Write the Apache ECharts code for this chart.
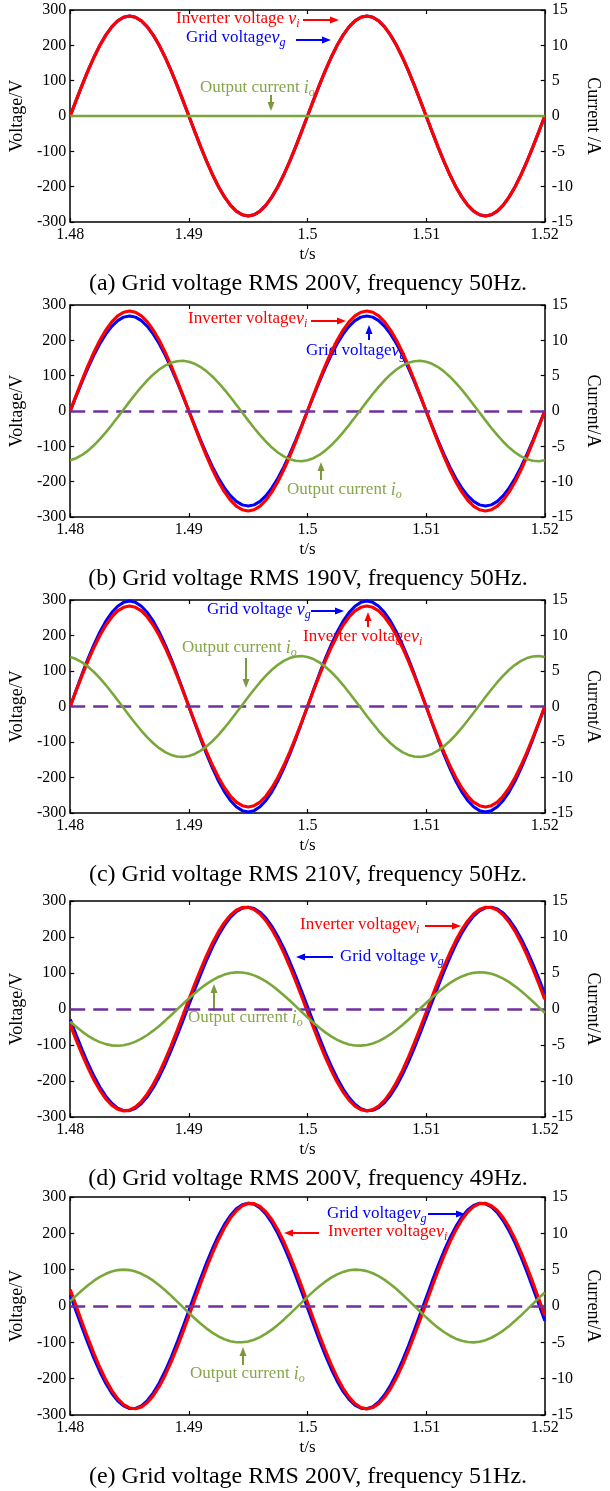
<!DOCTYPE html>
<html>
<head>
<meta charset="utf-8">
<script src="https://cdn.jsdelivr.net/npm/echarts@6/dist/echarts.min.js"></script>
<style>
html,body{margin:0;padding:0;background:#fff;}
#chart{width:610px;height:1491px;}
</style>
</head>
<body>
<div id="chart"></div>
<script>
// time samples (s), every 0.5 ms
const T = [1.48,1.4805,1.481,1.4815,1.482,1.4825,1.483,1.4835,1.484,1.4845,1.485,1.4855,1.486,1.4865,1.487,1.4875,1.488,1.4885,1.489,1.4895,
  1.49,1.4905,1.491,1.4915,1.492,1.4925,1.493,1.4935,1.494,1.4945,1.495,1.4955,1.496,1.4965,1.497,1.4975,1.498,1.4985,1.499,1.4995,
  1.5,1.5005,1.501,1.5015,1.502,1.5025,1.503,1.5035,1.504,1.5045,1.505,1.5055,1.506,1.5065,1.507,1.5075,1.508,1.5085,1.509,1.5095,
  1.51,1.5105,1.511,1.5115,1.512,1.5125,1.513,1.5135,1.514,1.5145,1.515,1.5155,1.516,1.5165,1.517,1.5175,1.518,1.5185,1.519,1.5195,1.52];

// inverter voltage at 50 Hz (panels a, b, c), V
const VI_50 = [0,44.3,87.4,128.5,166.3,200.1,228.9,252.2,269.2,279.5,283,279.5,269.2,252.2,228.9,200.1,166.3,128.5,87.4,44.3,
  0,-44.3,-87.4,-128.5,-166.3,-200.1,-228.9,-252.2,-269.2,-279.5,-283,-279.5,-269.2,-252.2,-228.9,-200.1,-166.3,-128.5,-87.4,-44.3,
  0,44.3,87.4,128.5,166.3,200.1,228.9,252.2,269.2,279.5,283,279.5,269.2,252.2,228.9,200.1,166.3,128.5,87.4,44.3,
  0,-44.3,-87.4,-128.5,-166.3,-200.1,-228.9,-252.2,-269.2,-279.5,-283,-279.5,-269.2,-252.2,-228.9,-200.1,-166.3,-128.5,-87.4,-44.3,0];

// (a) 200V 50Hz
const VG_A = [0,44.3,87.4,128.5,166.3,200.1,228.9,252.2,269.2,279.5,283,279.5,269.2,252.2,228.9,200.1,166.3,128.5,87.4,44.3,
  0,-44.3,-87.4,-128.5,-166.3,-200.1,-228.9,-252.2,-269.2,-279.5,-283,-279.5,-269.2,-252.2,-228.9,-200.1,-166.3,-128.5,-87.4,-44.3,
  0,44.3,87.4,128.5,166.3,200.1,228.9,252.2,269.2,279.5,283,279.5,269.2,252.2,228.9,200.1,166.3,128.5,87.4,44.3,
  0,-44.3,-87.4,-128.5,-166.3,-200.1,-228.9,-252.2,-269.2,-279.5,-283,-279.5,-269.2,-252.2,-228.9,-200.1,-166.3,-128.5,-87.4,-44.3,0];
const IO_A = [0,0,0,0,0,0,0,0,0,0,0,0,0,0,0,0,0,0,0,0,0,0,0,0,0,0,0,0,0,0,0,0,0,0,0,0,0,0,0,0,
  0,0,0,0,0,0,0,0,0,0,0,0,0,0,0,0,0,0,0,0,0,0,0,0,0,0,0,0,0,0,0,0,0,0,0,0,0,0,0,0,0];

// (b) 190V 50Hz
const VG_B = [0,42.1,83.1,122.1,158.1,190.2,217.6,239.7,255.8,265.7,269,265.7,255.8,239.7,217.6,190.2,158.1,122.1,83.1,42.1,
  0,-42.1,-83.1,-122.1,-158.1,-190.2,-217.6,-239.7,-255.8,-265.7,-269,-265.7,-255.8,-239.7,-217.6,-190.2,-158.1,-122.1,-83.1,-42.1,
  0,42.1,83.1,122.1,158.1,190.2,217.6,239.7,255.8,265.7,269,265.7,255.8,239.7,217.6,190.2,158.1,122.1,83.1,42.1,
  0,-42.1,-83.1,-122.1,-158.1,-190.2,-217.6,-239.7,-255.8,-265.7,-269,-265.7,-255.8,-239.7,-217.6,-190.2,-158.1,-122.1,-83.1,-42.1,0];
const IO_B = [-6.97,-6.68,-6.22,-5.61,-4.86,-3.99,-3.02,-1.98,-0.89,0.22,1.33,2.40,3.42,4.35,5.18,5.87,6.42,6.82,7.04,7.10,
  6.97,6.68,6.22,5.61,4.86,3.99,3.02,1.98,0.89,-0.22,-1.33,-2.40,-3.42,-4.35,-5.18,-5.87,-6.42,-6.82,-7.04,-7.10,
  -6.97,-6.68,-6.22,-5.61,-4.86,-3.99,-3.02,-1.98,-0.89,0.22,1.33,2.40,3.42,4.35,5.18,5.87,6.42,6.82,7.04,7.10,
  6.97,6.68,6.22,5.61,4.86,3.99,3.02,1.98,0.89,-0.22,-1.33,-2.40,-3.42,-4.35,-5.18,-5.87,-6.42,-6.82,-7.04,-7.10,-6.97];

// (c) 210V 50Hz
const VG_C = [0,46.5,91.8,134.8,174.6,210.0,240.3,264.6,282.5,293.3,297,293.3,282.5,264.6,240.3,210.0,174.6,134.8,91.8,46.5,
  0,-46.5,-91.8,-134.8,-174.6,-210.0,-240.3,-264.6,-282.5,-293.3,-297,-293.3,-282.5,-264.6,-240.3,-210.0,-174.6,-134.8,-91.8,-46.5,
  0,46.5,91.8,134.8,174.6,210.0,240.3,264.6,282.5,293.3,297,293.3,282.5,264.6,240.3,210.0,174.6,134.8,91.8,46.5,
  0,-46.5,-91.8,-134.8,-174.6,-210.0,-240.3,-264.6,-282.5,-293.3,-297,-293.3,-282.5,-264.6,-240.3,-210.0,-174.6,-134.8,-91.8,-46.5,0];
const IO_C = [6.97,6.68,6.22,5.61,4.86,3.99,3.02,1.98,0.89,-0.22,-1.33,-2.40,-3.42,-4.35,-5.18,-5.87,-6.42,-6.82,-7.04,-7.10,
  -6.97,-6.68,-6.22,-5.61,-4.86,-3.99,-3.02,-1.98,-0.89,0.22,1.33,2.40,3.42,4.35,5.18,5.87,6.42,6.82,7.04,7.10,
  6.97,6.68,6.22,5.61,4.86,3.99,3.02,1.98,0.89,-0.22,-1.33,-2.40,-3.42,-4.35,-5.18,-5.87,-6.42,-6.82,-7.04,-7.10,
  -6.97,-6.68,-6.22,-5.61,-4.86,-3.99,-3.02,-1.98,-0.89,0.22,1.33,2.40,3.42,4.35,5.18,5.87,6.42,6.82,7.04,7.10,6.97];

// (d) 200V 49Hz
const VI_D = [-43.6,-85.9,-126.3,-163.6,-197.1,-225.9,-249.4,-266.9,-278.2,-282.9,-280.9,-272.2,-257.1,-236.0,-209.2,-177.4,-141.6,-102.3,-60.7,-17.6,
  25.9,68.9,110.1,148.8,184.0,214.7,240.5,260.5,274.4,281.8,282.5,276.5,264.0,245.3,220.7,191.0,156.7,118.7,77.9,35.3,
  -8.2,-51.5,-93.5,-133.4,-170.0,-202.7,-230.7,-253.1,-269.5,-279.5,-283.0,-279.7,-269.9,-253.7,-231.4,-203.7,-171.2,-134.6,-94.8,-52.8,
  -9.6,33.9,76.6,117.4,155.5,189.9,219.9,244.6,263.5,276.2,282.4,281.9,274.7,261.0,241.2,215.7,185.0,150.0,111.4,70.2,27.3];
const VG_D = [-28.9,-71.7,-112.8,-151.3,-186.2,-216.6,-242.0,-261.6,-275.1,-282.0,-282.3,-275.9,-262.9,-243.8,-218.8,-188.8,-154.2,-116.0,-75.1,-32.3,
  11.2,54.4,96.3,136.0,172.4,204.8,232.3,254.4,270.4,280.0,283.0,279.3,269.0,252.3,229.7,201.5,168.8,132.0,92.0,49.9,
  6.6,-36.8,-79.4,-120.1,-158.0,-192.1,-221.7,-246.1,-264.6,-276.9,-282.6,-281.6,-274.0,-259.9,-239.6,-213.7,-182.8,-147.4,-108.7,-67.3,
  -24.4,19.2,62.2,103.8,142.9,178.7,210.2,236.8,257.8,272.6,281.0,282.8,277.9,266.4,248.6,224.9,195.9,162.3,124.9,84.4,42.0];
const IO_D = [-1.77,-2.48,-3.14,-3.72,-4.21,-4.60,-4.88,-5.05,-5.10,-5.03,-4.84,-4.53,-4.12,-3.61,-3.01,-2.35,-1.62,-0.86,-0.08,0.70,
  1.47,2.20,2.88,3.49,4.02,4.45,4.78,5.00,5.09,5.07,4.93,4.67,4.30,3.83,3.26,2.62,1.92,1.18,0.40,-0.38,
  -1.16,-1.91,-2.61,-3.25,-3.81,-4.29,-4.66,-4.92,-5.07,-5.09,-5.00,-4.79,-4.46,-4.03,-3.50,-2.89,-2.22,-1.49,-0.72,0.06,
  0.84,1.60,2.33,3.00,3.59,4.11,4.52,4.83,5.02,5.10,5.05,4.89,4.61,4.22,3.73,3.15,2.50,1.79,1.04,0.26,-0.53];

// (e) 200V 51Hz
const VI_E = [45.0,-0.2,-45.3,-89.3,-131.0,-169.3,-203.4,-232.2,-255.0,-271.3,-280.7,-282.9,-277.8,-265.6,-246.6,-221.3,-190.3,-154.5,-114.6,-71.9,
  -27.3,18.0,62.8,106.0,146.5,183.3,215.3,241.9,262.2,275.8,282.4,281.7,273.8,258.9,237.4,209.8,176.8,139.3,98.2,54.6,
  9.6,-35.7,-80.0,-122.3,-161.4,-196.5,-226.5,-250.6,-268.4,-279.3,-283.0,-279.5,-268.8,-251.2,-227.2,-197.5,-162.6,-123.5,-81.3,-37.0,
  8.2,53.2,96.9,138.1,175.7,208.9,236.6,258.4,273.5,281.6,282.5,276.1,262.7,242.6,216.2,184.3,147.7,107.3,64.2,19.4,-25.9];
const VG_E = [30.3,-15.0,-59.9,-103.3,-144.0,-181.0,-213.4,-240.3,-261.1,-275.2,-282.2,-282.0,-274.6,-260.1,-239.0,-211.8,-179.0,-141.8,-100.9,-57.5,
  -12.5,32.7,77.1,119.6,159.0,194.3,224.6,249.2,267.4,278.8,283.0,279.9,269.7,252.6,229.0,199.5,165.0,126.2,84.2,40.0,
  -5.2,-50.3,-94.1,-135.5,-173.4,-206.9,-235.0,-257.1,-272.7,-281.3,-282.6,-276.8,-263.8,-244.1,-218.0,-186.6,-150.2,-110.0,-67.0,-22.3,
  23.0,67.7,110.7,150.8,187.1,218.5,244.5,264.1,276.9,282.7,281.2,272.5,256.9,234.6,206.4,172.9,134.9,93.4,49.6,4.6,-40.7];
const IO_E = [0.64,1.43,2.17,2.86,3.48,4.01,4.43,4.75,4.94,5.00,4.94,4.75,4.43,4.01,3.48,2.86,2.17,1.43,0.64,-0.16,
  -0.95,-1.72,-2.45,-3.11,-3.70,-4.19,-4.57,-4.84,-4.98,-4.99,-4.88,-4.64,-4.28,-3.81,-3.25,-2.60,-1.88,-1.12,-0.33,0.47,
  1.26,2.01,2.72,3.35,3.90,4.35,4.69,4.91,5.00,4.96,4.80,4.51,4.11,3.60,3.00,2.33,1.59,0.81,0.02,-0.78,
  -1.56,-2.30,-2.98,-3.58,-4.09,-4.50,-4.79,-4.96,-5.00,-4.91,-4.70,-4.37,-3.92,-3.38,-2.75,-2.04,-1.29,-0.50,0.30,1.09,1.86];

const CAPTIONS = [
  '(a) Grid voltage RMS 200V, frequency 50Hz.',
  '(b) Grid voltage RMS 190V, frequency 50Hz.',
  '(c) Grid voltage RMS 210V, frequency 50Hz.',
  '(d) Grid voltage RMS 200V, frequency 49Hz.',
  '(e) Grid voltage RMS 200V, frequency 51Hz.'
];
const RIGHT_NAMES = ['Current /A', 'Current/A', 'Current/A', 'Current/A', 'Current/A'];

const FONT = 'Liberation Serif';
const RED = '#ff0000', BLUE = '#0000ff', GREEN = '#78a83a', GREEN_T = '#86a64a', GREEN_A = '#7c9a3c', PURPLE = '#7030a0';

const panels = [
  { top: 10, h: 212, vi: VI_50, vg: VG_A, io: IO_A, zero: false, cap: 284,
    notes: [
      { t: 'Inverter voltage ', v: 'v', s: 'i', c: RED, ac: RED, x: 176, y: 19, a: [303, 20, 339, 20] },
      { t: 'Grid voltage', v: 'v', s: 'g', c: BLUE, ac: BLUE, x: 186, y: 38, a: [296, 40, 331, 40] },
      { t: 'Output current ', v: 'i', s: 'o', c: GREEN_T, ac: GREEN_A, x: 200, y: 88, a: [271, 95, 271, 111] }
    ] },
  { top: 305, h: 212, vi: VI_50, vg: VG_B, io: IO_B, zero: true, cap: 579,
    notes: [
      { t: 'Inverter voltage', v: 'v', s: 'i', c: RED, ac: RED, x: 188, y: 319, a: [311, 321, 346, 321] },
      { t: 'Grid voltage', v: 'v', s: 'g', c: BLUE, ac: BLUE, x: 306, y: 351, a: [369, 340, 369, 325] },
      { t: 'Output current ', v: 'i', s: 'o', c: GREEN_T, ac: GREEN_A, x: 287, y: 490, a: [321, 480, 321, 462] }
    ] },
  { top: 600, h: 213, vi: VI_50, vg: VG_C, io: IO_C, zero: true, cap: 875,
    notes: [
      { t: 'Grid voltage ', v: 'v', s: 'g', c: BLUE, ac: BLUE, x: 207, y: 610, a: [311, 611, 344, 611] },
      { t: 'Inverter voltage', v: 'v', s: 'i', c: RED, ac: RED, x: 303, y: 637, a: [368, 627, 368, 612] },
      { t: 'Output current ', v: 'i', s: 'o', c: GREEN_T, ac: GREEN_A, x: 182, y: 648, a: [246, 658, 246, 688] }
    ] },
  { top: 901, h: 216, vi: VI_D, vg: VG_D, io: IO_D, zero: true, cap: 1179,
    notes: [
      { t: 'Inverter voltage', v: 'v', s: 'i', c: RED, ac: RED, x: 300, y: 925, a: [425, 926, 461, 926] },
      { t: 'Grid voltage ', v: 'v', s: 'g', c: BLUE, ac: BLUE, x: 340, y: 957, a: [333, 957, 296, 957] },
      { t: 'Output current ', v: 'i', s: 'o', c: GREEN_T, ac: GREEN_A, x: 188, y: 1018, a: [214, 1011, 214, 984] }
    ] },
  { top: 1197, h: 218, vi: VI_E, vg: VG_E, io: IO_E, zero: true, cap: 1477,
    notes: [
      { t: 'Grid voltage', v: 'v', s: 'g', c: BLUE, ac: BLUE, x: 327, y: 1214, a: [428, 1214, 465, 1214] },
      { t: 'Inverter voltage', v: 'v', s: 'i', c: RED, ac: RED, x: 328, y: 1232, a: [319, 1233, 284, 1233] },
      { t: 'Output current ', v: 'i', s: 'o', c: GREEN_T, ac: GREEN_A, x: 190, y: 1374, a: [243, 1365, 243, 1347] }
    ] }
];

function pairs(ys) { return T.map((t, i) => [t, ys[i]]); }

function arrow(x1, y1, x2, y2, color) {
  const ang = Math.atan2(y2 - y1, x2 - x1), L = 9, W = 3.5;
  const bx = x2 - L * Math.cos(ang), by = y2 - L * Math.sin(ang);
  return [
    { type: 'line', shape: { x1: x1, y1: y1, x2: bx, y2: by }, style: { stroke: color, lineWidth: 2 } },
    { type: 'polygon', shape: { points: [[x2, y2], [bx + W * Math.sin(ang), by - W * Math.cos(ang)], [bx - W * Math.sin(ang), by + W * Math.cos(ang)]] },
      style: { fill: color } }
  ];
}

function note(n) {
  return {
    type: 'text', x: n.x, y: n.y,
    style: {
      text: '{n|' + n.t + '}{v|' + n.v + '}{s|' + n.s + '}',
      verticalAlign: 'middle', align: 'left',
      rich: {
        n: { fontFamily: FONT, fontSize: 17, fill: n.c },
        v: { fontFamily: FONT, fontSize: 18, fontStyle: 'italic', fill: n.c },
        s: { fontFamily: FONT, fontSize: 12, fontStyle: 'italic', fill: n.c, padding: [9, 0, 0, 0] }
      }
    }
  };
}

const axisLine = { show: true, onZero: false, lineStyle: { color: '#000', width: 1.5 } };
const axisTick = { show: true, inside: true, length: 4, lineStyle: { color: '#000', width: 1.2 } };
const label = { color: '#000', fontFamily: FONT, fontSize: 16 };
const nameStyle = { color: '#000', fontFamily: FONT, fontSize: 18 };

const grid = [], xAxis = [], yAxis = [], series = [], graphic = [];

panels.forEach((p, i) => {
  grid.push({ left: 69, width: 480, top: p.top, height: p.h });
  xAxis.push({
    gridIndex: i, type: 'value', min: 1.48, max: 1.52, interval: 0.01, position: 'bottom',
    axisLine: axisLine, axisTick: axisTick, splitLine: { show: false },
    axisLabel: Object.assign({ margin: 5 }, label),
    name: 't/s', nameLocation: 'middle', nameGap: 24, nameTextStyle: Object.assign({}, nameStyle, { fontSize: 17 })
  });
  xAxis.push({
    gridIndex: i, type: 'value', min: 1.48, max: 1.52, interval: 0.01, position: 'top',
    axisLine: axisLine, axisTick: axisTick, splitLine: { show: false }, axisLabel: { show: false }
  });
  yAxis.push({
    gridIndex: i, type: 'value', min: -300, max: 300, interval: 100, position: 'left',
    axisLine: axisLine, axisTick: axisTick, splitLine: { show: false },
    axisLabel: Object.assign({ margin: 4 }, label),
    name: 'Voltage/V', nameLocation: 'middle', nameGap: 30, nameTextStyle: nameStyle
  });
  yAxis.push({
    gridIndex: i, type: 'value', min: -15, max: 15, interval: 5, position: 'right',
    axisLine: axisLine, axisTick: axisTick, splitLine: { show: false },
    axisLabel: Object.assign({ margin: 7 }, label),
    name: RIGHT_NAMES[i], nameLocation: 'middle', nameGap: 29, nameRotate: -90, nameTextStyle: nameStyle
  });

  const xi = i * 2, yv = i * 2, yc = i * 2 + 1;
  const base = { type: 'line', showSymbol: false, smooth: false, animation: false, silent: true, xAxisIndex: xi };
  series.push(Object.assign({}, base, {
    yAxisIndex: yv, data: pairs(p.vg), lineStyle: { color: BLUE, width: 3 }, z: 3,
    markLine: p.zero ? {
      silent: true, symbol: 'none', label: { show: false }, animation: false,
      lineStyle: { color: PURPLE, width: 2.5, type: [15, 8] }, data: [{ yAxis: 0 }]
    } : undefined
  }));
  series.push(Object.assign({}, base, { yAxisIndex: yv, data: pairs(p.vi), lineStyle: { color: RED, width: 3.2 }, z: 4 }));
  series.push(Object.assign({}, base, { yAxisIndex: yc, data: pairs(p.io), lineStyle: { color: GREEN, width: 2.6 }, z: 5 }));

  p.notes.forEach(n => {
    graphic.push(note(n));
    arrow(n.a[0], n.a[1], n.a[2], n.a[3], n.ac).forEach(g => graphic.push(g));
  });
  graphic.push({
    type: 'text', x: 308, y: p.cap,
    style: { text: CAPTIONS[i], fontFamily: FONT, fontSize: 24, fill: '#000', align: 'center', verticalAlign: 'middle' }
  });
});

const chart = echarts.init(document.getElementById('chart'), null, { renderer: 'canvas' });
chart.setOption({
  backgroundColor: '#fff',
  animation: false,
  grid: grid,
  xAxis: xAxis,
  yAxis: yAxis,
  series: series,
  graphic: graphic
});
</script>
</body>
</html>
